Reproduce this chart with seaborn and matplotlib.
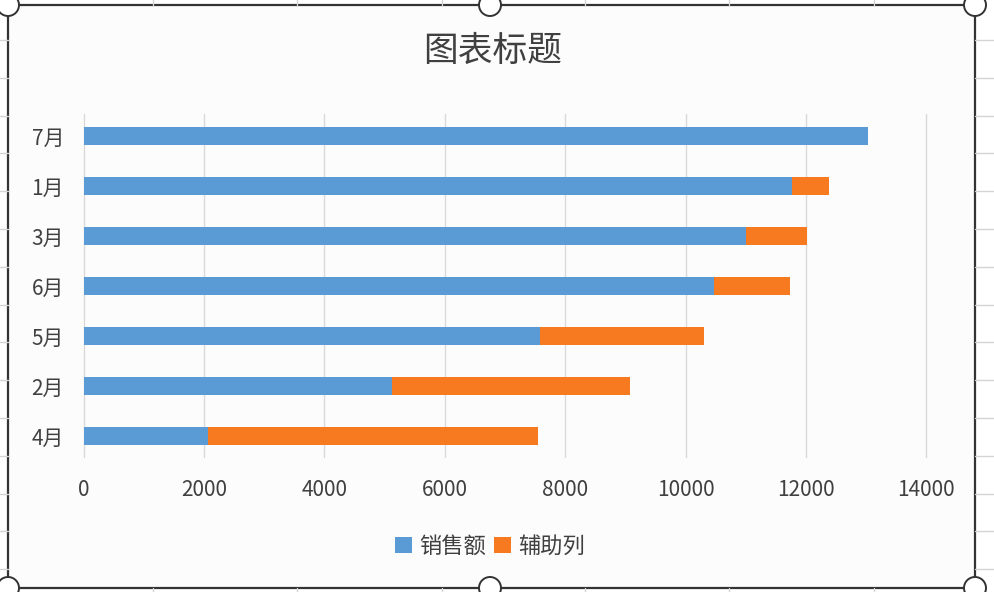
import numpy as np
import pandas as pd
import matplotlib
matplotlib.use('Agg')
import matplotlib.pyplot as plt
import seaborn as sns
from matplotlib.patches import Rectangle, Ellipse, Patch
from matplotlib.lines import Line2D

# data
months = ['7月', '1月', '3月', '6月', '5月', '2月', '4月']
sales = [13030, 11770, 11000, 10480, 7580, 5130, 2070]
helper = [0, 620, 1020, 1250, 2720, 3940, 5480]
x_ticks = [0, 2000, 4000, 6000, 8000, 10000, 12000, 14000]

blue = '#5b9bd5'
orange = '#f87a20'
text_col = '#404040'

sns.set_theme(style='white')
plt.rcParams['font.family'] = ['Noto Sans CJK SC', 'DejaVu Sans']

df = pd.DataFrame({'month': months, 'sales': sales, 'helper': helper})
df['total'] = df['sales'] + df['helper']

W, H = 994, 592
fig = plt.figure(figsize=(W / 100, H / 100), dpi=100)
fig.patch.set_facecolor('white')

def fx(px):
    return px / W

def fy(py):
    return 1 - py / H

# spreadsheet cells outside the chart
for k in range(16):
    yy = 40 + 37.8 * k
    fig.add_artist(Line2D([0, fx(8)], [fy(yy), fy(yy)], color='#d4d4d4', lw=1))
    fig.add_artist(Line2D([fx(975), 1], [fy(yy), fy(yy)], color='#d4d4d4', lw=1))
for xx in [153, 297, 442, 585, 729, 874]:
    fig.add_artist(Line2D([fx(xx), fx(xx)], [fy(0), fy(5)], color='#d4d4d4', lw=1))
    fig.add_artist(Line2D([fx(xx), fx(xx)], [fy(588), fy(592)], color='#d4d4d4', lw=1))

# chart area frame
fig.add_artist(Rectangle((fx(8), fy(588)), fx(975) - fx(8), fy(5) - fy(588),
                         transform=fig.transFigure, facecolor='#fdfcfd',
                         edgecolor='#333333', lw=1.6, zorder=0))

ax = fig.add_axes([fx(83.5), fy(457), fx(926.3) - fx(83.5), fy(114) - fy(457)])
ax.set_facecolor('none')

sns.barplot(data=df, x='total', y='month', order=months, color=orange,
            saturation=1, width=0.37, linewidth=0, ax=ax, zorder=3)
sns.barplot(data=df, x='sales', y='month', order=months, color=blue,
            saturation=1, width=0.37, linewidth=0, ax=ax, zorder=4)

ax.set_xlim(0, 14000)
ax.set_ylim(6.42, -0.44)
ax.set_xticks(x_ticks)
ax.set_xticklabels([str(v) for v in x_ticks])
ax.set_xlabel('')
ax.set_ylabel('')
ax.grid(axis='x', color='#d9d9d9', lw=1, zorder=0)
ax.grid(axis='y', visible=False)
for gl in ax.get_xgridlines():
    gl.set_clip_on(False)
for s in ax.spines.values():
    s.set_visible(False)
ax.tick_params(axis='x', length=0, pad=16, labelsize=15, labelcolor=text_col)
ax.tick_params(axis='y', length=0, pad=14, labelsize=15, labelcolor=text_col)

fig.text(fx(493), fy(51), '图表标题', ha='center', va='center',
         fontsize=25, color=text_col)

handles = [Patch(facecolor=blue, edgecolor='none', label='销售额'),
           Patch(facecolor=orange, edgecolor='none', label='辅助列')]
fig.legend(handles=handles, loc='center', bbox_to_anchor=(fx(490), fy(546)),
           ncol=2, frameon=False, fontsize=16, handlelength=0.75,
           handleheight=0.75, handletextpad=0.3, columnspacing=0.4,
           labelcolor=text_col)

# selection handles
for hx, hy in [(8, 5), (490, 5), (975, 5), (8, 588), (490, 588), (975, 588)]:
    fig.add_artist(Ellipse((fx(hx), fy(hy)), 22 / W, 22 / H,
                           transform=fig.transFigure, facecolor='white',
                           edgecolor='#333333', lw=1.4, zorder=10))

fig.savefig('out.png', dpi=100)
